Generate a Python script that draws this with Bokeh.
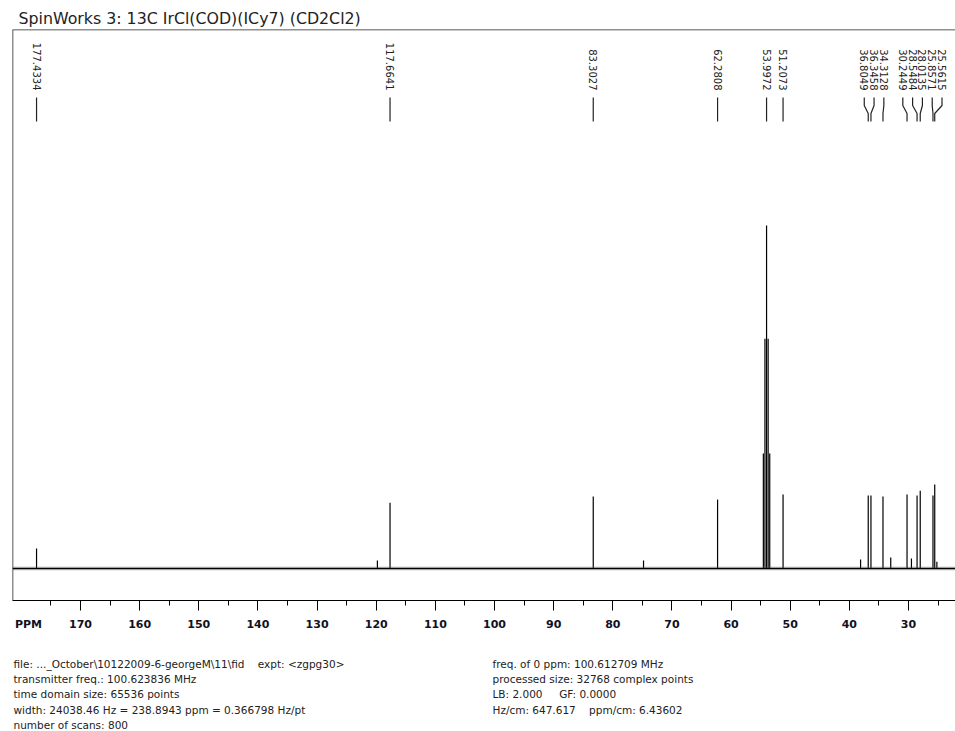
import math
from bokeh.plotting import figure
from bokeh.layouts import column
from bokeh.models import Range1d, FixedTicker, Span, LinearAxis
from bokeh.core.properties import value
from bokeh.embed import file_html
from bokeh.resources import INLINE

# ---------------- data ----------------
TITLE = "SpinWorks 3: 13C IrCl(COD)(ICy7) (CD2Cl2)"
AXIS_WORD = "PPM"

# labelled peaks (ppm) and relative heights (tallest = 100)
peak_ppm = [177.4334, 117.6641, 83.3027, 62.2808, 53.9972, 51.2073,
            36.8049, 36.3458, 34.3128, 30.2449, 28.5484, 28.0135,
            25.8571, 25.5615]
peak_height = [5.8, 19.2, 21.0, 20.1, 100.0, 21.6,
               21.3, 21.3, 21.0, 21.6, 21.3, 22.7,
               21.3, 24.5]

# CD2Cl2 quintet side lines
multiplet_ppm = [54.54, 54.27, 53.73, 53.46]
multiplet_height = [33.5, 67.0, 67.0, 33.5]

# small unlabelled peaks
minor_ppm = [119.8, 74.8, 38.1, 33.0, 29.5, 25.2]
minor_height = [2.3, 2.3, 2.6, 3.2, 2.9, 2.0]

major_ticks = [170, 160, 150, 140, 130, 120, 110, 100, 90, 80, 70, 60, 50, 40, 30]
minor_ticks = [175, 165, 155, 145, 135, 125, 115, 105, 95, 85, 75, 65, 55, 45, 35, 25]

NB = "\u00a0"
footer_left = [
    "file: ..._October\\10122009-6-georgeM\\11\\fid" + NB * 4 + "expt: <zgpg30>",
    "transmitter freq.: 100.623836 MHz",
    "time domain size: 65536 points",
    "width: 24038.46 Hz = 238.8943 ppm = 0.366798 Hz/pt",
    "number of scans: 800",
]
footer_right = [
    "freq. of 0 ppm: 100.612709 MHz",
    "processed size: 32768 complex points",
    "LB: 2.000" + NB * 5 + "GF: 0.0000",
    "Hz/cm: 647.617" + NB * 4 + "ppm/cm: 6.43602",
]

# ---------------- layout ----------------
W = 955
H_MAIN = 640
H_FOOT = 731 - H_MAIN
MB_L, MB_R, MB_T, MB_B = 12, 0, 29, 40
X0, X1 = 181.5, 22.05
Y0, Y1 = -9.33, 157.14
FW = W - MB_L - MB_R
FH = H_MAIN - MB_T - MB_B
XS = FW / (X0 - X1)      # px per ppm
YS = FH / (Y1 - Y0)      # px per unit
PPM_WORD_AT = 178.8      # where the axis word sits on the ppm scale


def xd(px_from_left):
    return X0 - px_from_left / XS


def yd(px_from_top):
    return Y1 - px_from_top / YS


FONT = "DejaVu Sans"

p = figure(width=W, height=H_MAIN, output_backend="svg", toolbar_location=None,
           x_range=Range1d(X0, X1), y_range=Range1d(Y0, Y1),
           y_axis_location=None,
           min_border_left=MB_L, min_border_right=MB_R,
           min_border_top=MB_T, min_border_bottom=MB_B)
p.outline_line_color = None
p.grid.visible = False
p.background_fill_color = "white"
p.border_fill_color = "white"

p.title.text = TITLE
p.title.text_font = FONT
p.title.text_font_size = "15.8px"
p.title.text_font_style = "normal"
p.title.text_color = "#222222"
p.title.align = "left"
p.title.offset = 6
p.title.standoff = 4

# axis 1: line + tick marks only
ax = p.xaxis[0]
ax.ticker = FixedTicker(ticks=major_ticks, minor_ticks=minor_ticks)
ax.axis_line_color = "black"
ax.axis_line_width = 1
ax.major_tick_out = 10
ax.major_tick_in = 0
ax.minor_tick_out = 5
ax.minor_tick_in = 0
ax.major_tick_line_color = "black"
ax.minor_tick_line_color = "black"
ax.major_label_standoff = 0
ax.major_label_text_font_size = "0px"
ax.major_label_overrides = {t: "" for t in major_ticks}

# axis 2: labels (incl. the PPM word) without marks
ax2 = LinearAxis(ticker=FixedTicker(ticks=[PPM_WORD_AT] + major_ticks),
                 major_label_overrides={PPM_WORD_AT: AXIS_WORD},
                 major_tick_out=0, major_tick_in=0,
                 minor_tick_out=0, minor_tick_in=0,
                 axis_line_color=None,
                 major_label_standoff=7,
                 major_label_text_font=FONT,
                 major_label_text_font_style="bold",
                 major_label_text_font_size="11px",
                 major_label_text_color="#111122")
p.add_layout(ax2, "below")

# frame borders (left + top)
p.add_layout(Span(location=X0, dimension="height", line_color="#222222", line_width=1.5))
p.add_layout(Span(location=Y1, dimension="width", line_color="#222222", line_width=1.5))

# baseline (noise band)
p.add_layout(Span(location=0, dimension="width", line_color="#777777", line_width=4, line_alpha=0.3))
p.add_layout(Span(location=0, dimension="width", line_color="black", line_width=1.6))

# peaks
all_ppm = peak_ppm + multiplet_ppm + minor_ppm
all_h = peak_height + multiplet_height + minor_height
p.segment(x0=all_ppm, y0=[0] * len(all_ppm), x1=all_ppm, y1=all_h,
          line_color="black", line_width=1.2)


# label placement: spread overlapping labels with a minimum spacing
def spread(pxs, d):
    def pos(g):
        c = sum(g) / len(g)
        n = len(g)
        return [c + (k - (n - 1) / 2) * d for k in range(n)]
    groups = []
    for x in pxs:
        groups.append([x])
        while len(groups) > 1 and pos(groups[-1])[0] - pos(groups[-2])[-1] < d:
            g = groups.pop()
            groups[-1] = groups[-1] + g
    out = []
    for g in groups:
        out += pos(g)
    return out


peak_px = [(X0 - v) * XS for v in peak_ppm]
label_px = spread(peak_px, 9.8)
label_x = [xd(v) for v in label_px]

xs, ys = [], []
for lx, pk in zip(label_x, peak_ppm):
    xs.append([lx, lx, pk, pk])
    ys.append([yd(68), yd(76), yd(84), yd(92)])
p.multi_line(xs=xs, ys=ys, line_color="#222222", line_width=1.2)

p.text(x=label_x, y=[yd(61)] * len(label_x),
       text=["%.4f" % v for v in peak_ppm],
       angle=-math.pi / 2, text_align="right", text_baseline="middle",
       text_font=value(FONT), text_font_size="10px", text_color="#222222")

# ---------------- footer (acquisition parameters) ----------------
f = figure(width=W, height=H_FOOT, output_backend="svg", toolbar_location=None,
           x_range=Range1d(MB_L, W), y_range=Range1d(H_FOOT, 0),
           x_axis_location=None, y_axis_location=None,
           min_border_left=MB_L, min_border_right=0, min_border_top=0, min_border_bottom=0)
f.outline_line_color = None
f.grid.visible = False
row_y = [663.5 + 15.2 * i - H_MAIN for i in range(5)]
f.text(x=[13] * len(footer_left), y=row_y[:len(footer_left)], text=footer_left,
       text_baseline="middle", text_align="left",
       text_font=value(FONT), text_font_size="10.5px", text_color="#222222")
f.text(x=[492] * len(footer_right), y=row_y[:len(footer_right)], text=footer_right,
       text_baseline="middle", text_align="left",
       text_font=value(FONT), text_font_size="10.5px", text_color="#222222")

layout = column(p, f, spacing=0)
open("out.html", "w").write(file_html(layout, INLINE))
